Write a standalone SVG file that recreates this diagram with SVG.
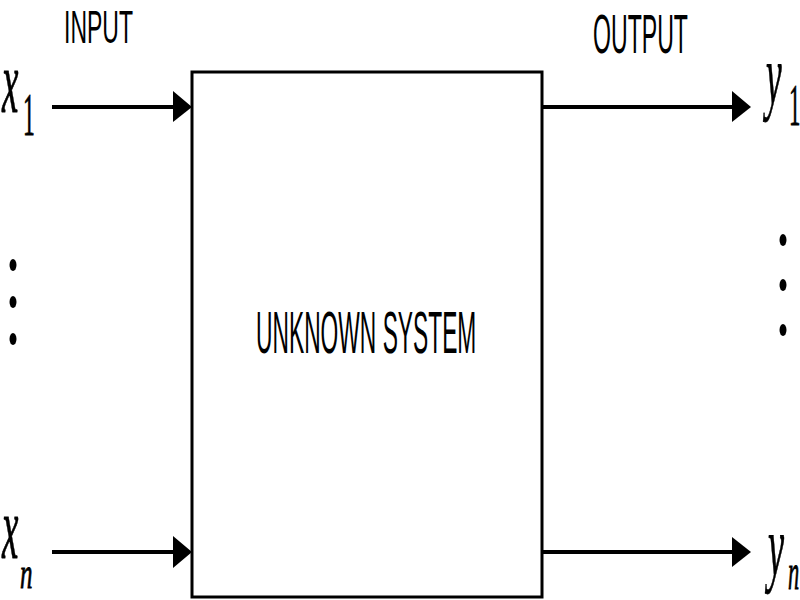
<svg xmlns="http://www.w3.org/2000/svg" width="800" height="600" viewBox="0 0 800 600">
<style>
.lbl{font-family:"Liberation Sans",Arial,sans-serif;fill:#000}
.math{font-family:"Liberation Serif","Times New Roman",serif;fill:#000;stroke:#000;stroke-width:0.8}
.conn{stroke:#000;stroke-width:4;fill:none}
.head{fill:#000}
.dot{fill:#000}
</style>
<rect width="800" height="600" fill="#fff"/>
<g id="system">
<rect x="192" y="72" width="350" height="525" fill="#fff" stroke="#000" stroke-width="3"/>
<text class="lbl" font-size="60" transform="translate(256,353) scale(0.38,1)">UNKNOWN SYSTEM</text>
</g>
<g id="labels">
<text class="lbl" font-size="46" transform="translate(64,43) scale(0.5,1)">INPUT</text>
<text class="lbl" font-size="55" transform="translate(593,53) scale(0.42,1)">OUTPUT</text>
</g>
<g id="x1">
<text class="math" font-style="italic" font-size="88" transform="translate(2,112) scale(0.42,1)">x</text>
<text class="math" font-size="62" transform="translate(23,135) scale(0.38,1)">1</text>
</g>
<g id="xn">
<text class="math" font-style="italic" font-size="88" transform="translate(2,558) scale(0.42,1)">x</text>
<text class="math" font-style="italic" font-size="44" transform="translate(20,588) scale(0.57,1)">n</text>
</g>
<g id="y1">
<text class="math" font-style="italic" font-size="84" transform="translate(766,104) scale(0.42,1)">y</text>
<text class="math" font-size="60" transform="translate(789,125) scale(0.38,1)">1</text>
</g>
<g id="yn">
<text class="math" font-style="italic" font-size="86" transform="translate(768,575) scale(0.42,1)">y</text>
<text class="math" font-style="italic" font-size="50" transform="translate(788,589) scale(0.45,1)">n</text>
</g>
<g id="dots-in">
<ellipse class="dot" cx="13" cy="265" rx="3.5" ry="6"/>
<ellipse class="dot" cx="13" cy="302" rx="3.5" ry="6"/>
<ellipse class="dot" cx="13" cy="339" rx="3.5" ry="6"/>
</g>
<g id="dots-out">
<ellipse class="dot" cx="783" cy="240" rx="3.5" ry="6"/>
<ellipse class="dot" cx="783" cy="285" rx="3.5" ry="6"/>
<ellipse class="dot" cx="783" cy="330" rx="3.5" ry="6"/>
</g>
<g id="connectors">
<line class="conn" x1="52" y1="107" x2="176" y2="107"/>
<polygon class="head" points="173,91 192,107 173,122"/>
<line class="conn" x1="52" y1="552" x2="176" y2="552"/>
<polygon class="head" points="173,536 192,552 173,568"/>
<line class="conn" x1="542" y1="107" x2="735" y2="107"/>
<polygon class="head" points="732,91 751,107 732,122"/>
<line class="conn" x1="542" y1="552" x2="735" y2="552"/>
<polygon class="head" points="732,537 751,552 732,567"/>
</g>
</svg>
